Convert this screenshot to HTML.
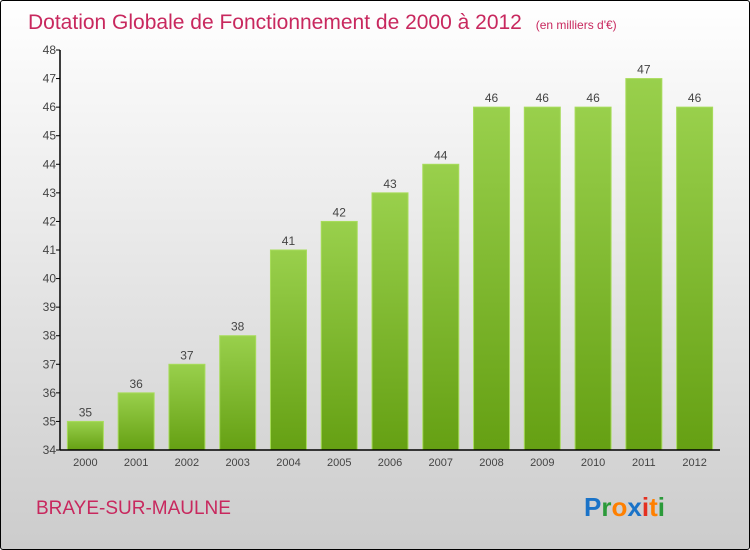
<!DOCTYPE html>
<html><head><meta charset="utf-8"><style>
body{margin:0;width:750px;height:550px;overflow:hidden;font-family:"Liberation Sans",sans-serif}
#c{position:absolute;left:0;top:0;width:748px;height:548px;border:1px solid #000;border-radius:3px;background:linear-gradient(#fff,#ccc)}
</style></head><body>
<div id="c"></div>
<svg id="s" width="750" height="550" style="position:absolute;left:0;top:0">
<defs><linearGradient id="g" x1="0" y1="0" x2="0" y2="1"><stop offset="0" stop-color="#99d04c"/><stop offset="1" stop-color="#65a013"/></linearGradient></defs>
<text x="28" y="29" font-size="21" fill="#c8285e">Dotation Globale de Fonctionnement de 2000 à 2012 <tspan font-size="12" dx="8">(en milliers d'€)</tspan></text>
<text x="36" y="514" font-size="19" fill="#c8285e">BRAYE-SUR-MAULNE</text>
<g font-size="26" font-weight="bold" font-family="Liberation Sans,sans-serif">
<text x="584" y="516"><tspan fill="#1a73c8">P</tspan><tspan fill="#2b9a3a">r</tspan><tspan fill="#ff8000">o</tspan><tspan fill="#1a73c8">x</tspan><tspan fill="#e43020">i</tspan><tspan fill="#ff8000">t</tspan><tspan fill="#2b9a3a">i</tspan></text></g>
<g id="plot"></g>
</svg>
<script>
const years=["2000","2001","2002","2003","2004","2005","2006","2007","2008","2009","2010","2011","2012"];
const values=[35,36,37,38,41,42,43,44,46,46,46,47,46];
const yTicks=[34,35,36,37,38,39,40,41,42,43,44,45,46,47,48];
const X0=60,X1=720,Y0=450,Y1=50,ymin=34,ymax=48;
const y=v=>Y0-(v-ymin)*(Y0-Y1)/(ymax-ymin);
const step=(X1-X0)/years.length;
const x=i=>X0+step*(i+0.5);
const g=document.getElementById('plot');const NS="http://www.w3.org/2000/svg";
function el(t,a,txt){const e=document.createElementNS(NS,t);for(const k in a)e.setAttribute(k,a[k]);if(txt!=null)e.textContent=txt;g.appendChild(e);return e;}
values.forEach((v,i)=>{
 const r=el('rect',{x:x(i)-18,y:y(v),width:36,height:Y0-y(v),fill:'url(#g)',stroke:'#a8dc5c','stroke-width':1});
 
 
 const t=el('text',{x:x(i),y:y(v)-5,'text-anchor':'middle','font-size':12,fill:'#444'},v);
 
 
 const l=el('text',{x:x(i),y:Y0+16,'text-anchor':'middle','font-size':11,fill:'#444'},years[i]);
 
 
});
yTicks.forEach(v=>{
 el('line',{x1:X0-4,x2:X0,y1:y(v),y2:y(v),stroke:'#000'});
 const t=el('text',{x:X0-4,y:y(v)+4,'text-anchor':'end','font-size':12,fill:'#444'},v);
 
 
});
const ya=el('line',{x1:X0,x2:X0,y1:Y1,y2:Y0,stroke:'#000','stroke-width':1.5});


const xa=el('line',{x1:X0,x2:X1,y1:Y0,y2:Y0,stroke:'#000','stroke-width':1.5});


</script>
</body></html>
